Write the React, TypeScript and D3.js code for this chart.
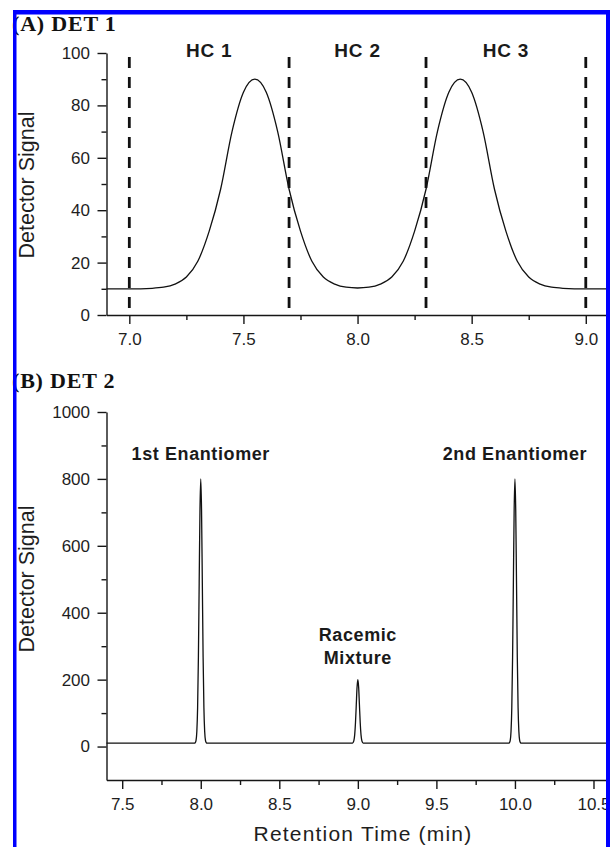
import React, { useRef, useEffect } from "react";
import * as d3 from "d3";

const WIDTH = 610;
const HEIGHT = 847;
const SANS = "'Liberation Sans', Arial, Helvetica, sans-serif";
const SERIF = "'Liberation Serif', 'Times New Roman', serif";
const INK = "#161616";
const BORDER = "#0000ff";

// (A) DET 1 - two broad peaks, split into heart-cut windows
const det1Time = [
  6.9, 7.0, 7.1, 7.15, 7.2, 7.25, 7.3, 7.35, 7.4, 7.45, 7.5, 7.55, 7.6, 7.65,
  7.7, 7.75, 7.8, 7.85, 7.9, 7.95, 8.0, 8.05, 8.1, 8.15, 8.2, 8.25, 8.3, 8.35,
  8.4, 8.45, 8.5, 8.55, 8.6, 8.65, 8.7, 8.75, 8.8, 8.85, 8.9, 9.0, 9.1,
];
const det1Signal = [
  10, 10, 10.2, 10.6, 11.8, 14.5, 20.5, 32, 48, 70, 85, 90, 85, 70,
  48, 32, 20.5, 14.5, 11.8, 10.6, 10.3, 10.6, 11.8, 14.5, 20.5, 32, 48, 70,
  85, 90, 85, 70, 48, 32, 20.5, 14.5, 11.8, 10.6, 10.2, 10, 10,
];
const hcBounds = [7.0, 7.7, 8.3, 9.0];
const hcNames = ["HC 1", "HC 2", "HC 3"];
const det1XTicks = [7.0, 7.5, 8.0, 8.5, 9.0];
const det1XMinor = [7.25, 7.75, 8.25, 8.75];
const det1YTicks = [0, 20, 40, 60, 80, 100];
const det1YMinor = [10, 30, 50, 70, 90];

// (B) DET 2 - sharp enantiomer peaks
const det2Time = [
  7.4,
  7.96, 7.965, 7.97, 7.975, 7.98, 7.985, 7.99, 7.995, 8.0,
  8.005, 8.01, 8.015, 8.02, 8.025, 8.03, 8.035, 8.04,
  8.96, 8.965, 8.97, 8.975, 8.98, 8.985, 8.99, 8.995, 9.0,
  9.005, 9.01, 9.015, 9.02, 9.025, 9.03, 9.035, 9.04,
  9.96, 9.965, 9.97, 9.975, 9.98, 9.985, 9.99, 9.995, 10.0,
  10.005, 10.01, 10.015, 10.02, 10.025, 10.03, 10.035, 10.04,
  10.6,
];
const det2Signal = [
  10,
  10, 11.7, 18.7, 45, 117, 267, 489, 707, 800,
  707, 489, 267, 117, 45, 18.7, 11.7, 10,
  10, 10.4, 12.1, 18.4, 35.7, 71.8, 125, 178, 200,
  178, 125, 71.8, 35.7, 18.4, 12.1, 10.4, 10,
  10, 11.7, 18.7, 45, 117, 267, 489, 707, 800,
  707, 489, 267, 117, 45, 18.7, 11.7, 10,
  10,
];
const det2XTicks = [7.5, 8.0, 8.5, 9.0, 9.5, 10.0, 10.5];
const det2XMinor = [7.75, 8.25, 8.75, 9.25, 9.75, 10.25];
const det2YTicks = [0, 200, 400, 600, 800, 1000];
const det2YMinor = [100, 300, 500, 700, 900];
const peakTimes = [8.0, 9.0, 10.0];
const peakNames = [["1st Enantiomer"], ["Racemic", "Mixture"], ["2nd Enantiomer"]];
const peakLabelSignal = [856, 316, 856];

function drawAxes(svg, x, y, xTicks, xMinor, yTicks, yMinor, fmtX, fmtY) {
  const x0 = x.range()[0];
  const y0 = y.range()[0];
  const style = (g) => {
    g.attr("font-size", 17).attr("font-family", SANS).attr("color", INK);
    g.selectAll("path, line").attr("stroke-width", 1.4);
    g.selectAll("text").attr("fill", "#1e1e1e");
  };

  svg
    .append("g")
    .attr("transform", `translate(0,${y0})`)
    .call(d3.axisBottom(x).tickValues(xMinor).tickSize(5).tickSizeOuter(0).tickFormat(() => ""))
    .call(style)
    .call((g) => g.select(".domain").remove());
  svg
    .append("g")
    .attr("transform", `translate(0,${y0})`)
    .call(d3.axisBottom(x).tickValues(xTicks).tickSize(9).tickPadding(9).tickSizeOuter(0).tickFormat(fmtX))
    .call(style);

  svg
    .append("g")
    .attr("transform", `translate(${x0},0)`)
    .call(d3.axisLeft(y).tickValues(yMinor).tickSize(5).tickSizeOuter(0).tickFormat(() => ""))
    .call(style)
    .call((g) => g.select(".domain").remove());
  svg
    .append("g")
    .attr("transform", `translate(${x0},0)`)
    .call(d3.axisLeft(y).tickValues(yTicks).tickSize(9).tickPadding(7.5).tickSizeOuter(0).tickFormat(fmtY))
    .call(style);
}

function yTitle(svg, cx, cy) {
  svg
    .append("text")
    .attr("transform", `translate(${cx},${cy}) rotate(-90)`)
    .attr("text-anchor", "middle")
    .attr("font-family", SANS)
    .attr("font-size", 21.5)
    .attr("fill", "#1e1e1e")
    .text("Detector Signal");
}

function panelTitle(svg, text, baseline) {
  svg
    .append("text")
    .attr("x", 12)
    .attr("y", baseline)
    .attr("font-family", SERIF)
    .attr("font-weight", "bold")
    .attr("font-size", 22)
    .attr("letter-spacing", 0.8)
    .attr("fill", "#111")
    .text(text);
}

export default function App() {
  const ref = useRef(null);

  useEffect(() => {
    const svg = d3.select(ref.current);
    svg.selectAll("*").remove();

    svg.append("rect").attr("width", WIDTH).attr("height", HEIGHT).attr("fill", "#fff");

    // ---- panel A
    const xA = d3.scaleLinear().domain([6.9, 9.1]).range([106.5, 608.6]);
    const yA = d3.scaleLinear().domain([0, 100]).range([315, 53]);
    const fmt1 = d3.format(".1f");

    svg
      .append("g")
      .selectAll("line")
      .data(hcBounds)
      .join("line")
      .attr("x1", (d) => xA(d))
      .attr("x2", (d) => xA(d))
      .attr("y1", yA(98.5))
      .attr("y2", yA(0))
      .attr("stroke", "#111")
      .attr("stroke-width", 2.8)
      .attr("stroke-dasharray", "11,9");

    svg
      .append("path")
      .datum(det1Time.map((t, i) => [t, det1Signal[i]]))
      .attr("fill", "none")
      .attr("stroke", "#111")
      .attr("stroke-width", 1.3)
      .attr(
        "d",
        d3
          .line()
          .x((d) => xA(d[0]))
          .y((d) => yA(d[1]))
          .curve(d3.curveMonotoneX)
      );

    svg
      .append("g")
      .selectAll("text")
      .data(hcNames)
      .join("text")
      .attr("x", (d, i) => xA((hcBounds[i] + hcBounds[i + 1]) / 2))
      .attr("y", 57)
      .attr("text-anchor", "middle")
      .attr("font-family", SANS)
      .attr("font-weight", "bold")
      .attr("font-size", 19)
      .attr("letter-spacing", 0.8)
      .attr("fill", "#1a1a1a")
      .text((d) => d);

    drawAxes(svg, xA, yA, det1XTicks, det1XMinor, det1YTicks, det1YMinor, fmt1, d3.format("d"));
    yTitle(svg, 34, 185);
    panelTitle(svg, "(A) DET 1", 31);

    // ---- panel B
    const xB = d3.scaleLinear().domain([7.4, 10.6]).range([106.5, 609.2]);
    const yB = d3.scaleLinear().domain([-100, 1000]).range([780, 412]);

    svg
      .append("path")
      .datum(det2Time.map((t, i) => [t, det2Signal[i]]))
      .attr("fill", "none")
      .attr("stroke", "#111")
      .attr("stroke-width", 1.3)
      .attr(
        "d",
        d3
          .line()
          .x((d) => xB(d[0]))
          .y((d) => yB(d[1]))
          .curve(d3.curveMonotoneX)
      );

    const labels = svg
      .append("g")
      .selectAll("text")
      .data(peakNames)
      .join("text")
      .attr("text-anchor", "middle")
      .attr("font-family", SANS)
      .attr("font-weight", "bold")
      .attr("font-size", 18)
      .attr("letter-spacing", 0.6)
      .attr("fill", "#1a1a1a");
    labels
      .selectAll("tspan")
      .data((d, i) => d.map((line) => ({ line, i })))
      .join("tspan")
      .attr("x", (d) => xB(peakTimes[d.i]))
      .attr("y", (d, j) => yB(peakLabelSignal[d.i]) + j * 23.5)
      .text((d) => d.line);

    drawAxes(svg, xB, yB, det2XTicks, det2XMinor, det2YTicks, det2YMinor, fmt1, d3.format("d"));
    yTitle(svg, 34, 579);
    panelTitle(svg, "(B) DET 2", 388);

    svg
      .append("text")
      .attr("x", 363)
      .attr("y", 841)
      .attr("text-anchor", "middle")
      .attr("font-family", SANS)
      .attr("font-size", 21)
      .attr("letter-spacing", 1.2)
      .attr("fill", "#1e1e1e")
      .text("Retention Time (min)");

    // ---- blue frame
    const frame = svg.append("g").attr("fill", BORDER);
    frame.append("rect").attr("x", 13).attr("y", 10).attr("width", WIDTH - 13).attr("height", 4.5);
    frame.append("rect").attr("x", 13).attr("y", 10).attr("width", 3.5).attr("height", HEIGHT - 10);
    frame.append("rect").attr("x", 606).attr("y", 10).attr("width", 4).attr("height", HEIGHT - 10);
  }, []);

  return (
    <svg
      ref={ref}
      width={WIDTH}
      height={HEIGHT}
      style={{ position: "absolute", left: 0, top: 0, display: "block" }}
    />
  );
}
